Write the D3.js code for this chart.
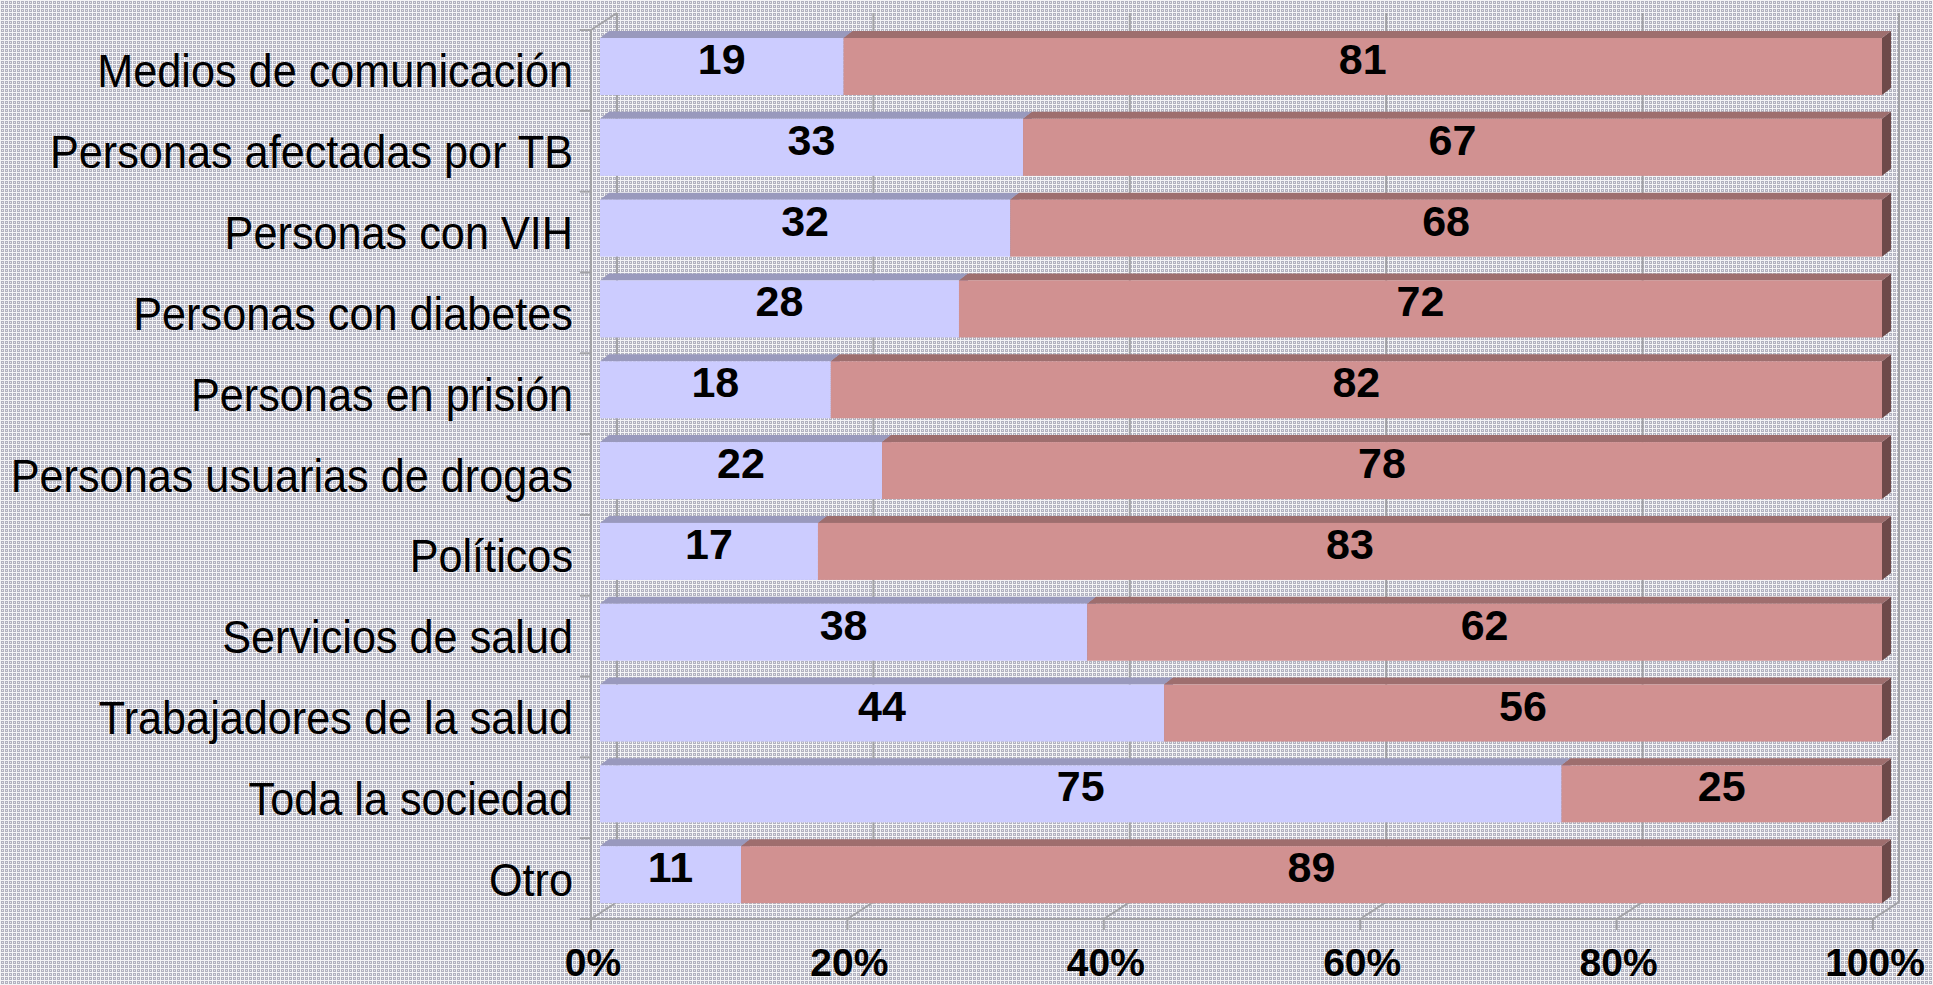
<!DOCTYPE html>
<html>
<head>
<meta charset="utf-8">
<script src="https://cdn.jsdelivr.net/npm/d3@7"></script>
<style>
html,body{margin:0;padding:0;background:#fff;}
svg{display:block;}
</style>
</head>
<body>
<svg id="chart" width="1933" height="985"></svg>
<script>
const categories = [
  "Medios de comunicación",
  "Personas afectadas por TB",
  "Personas con VIH",
  "Personas con diabetes",
  "Personas en prisión",
  "Personas usuarias de drogas",
  "Políticos",
  "Servicios de salud",
  "Trabajadores de la salud",
  "Toda la sociedad",
  "Otro"
];
const seriesA = [19, 33, 32, 28, 18, 22, 17, 38, 44, 75, 11];
const seriesB = [81, 67, 68, 72, 82, 78, 83, 62, 56, 25, 89];
const tickValues = [0, 20, 40, 60, 80, 100];
const tickLabels = ["0%", "20%", "40%", "60%", "80%", "100%"];

const svg = d3.select("#chart");
const W = 1933, H = 985;

// background pattern
const defs = svg.append("defs");
const pat = defs.append("pattern").attr("id", "bg").attr("width", 4).attr("height", 4)
  .attr("patternUnits", "userSpaceOnUse");
pat.append("rect").attr("width", 4).attr("height", 4).attr("fill", "#f4f4f6");
pat.append("rect").attr("x", 1).attr("y", 1).attr("width", 3).attr("height", 3).attr("fill", "#b2b2c0");
pat.append("rect").attr("x", 2).attr("y", 2).attr("width", 1).attr("height", 1).attr("fill", "#e6e6ea");
svg.append("rect").attr("width", W).attr("height", H).attr("fill", "url(#bg)");

// geometry
const x = d3.scaleLinear().domain([0, 100]).range([591, 1873]);
const y = d3.scaleBand().domain(categories).range([30, 919]);
const wallDX = 26, wallDY = -17;
const barDX = 9, barDY = -7;
const barOff = 8, barH = 57;
const gridColor = "#a2a2a6";

const g = svg.append("g");

// back wall gridlines
g.selectAll("line.grid").data(tickValues).join("line")
  .attr("class", "grid")
  .attr("x1", d => x(d) + wallDX).attr("x2", d => x(d) + wallDX)
  .attr("y1", 30 + wallDY).attr("y2", 919 + wallDY)
  .attr("stroke", gridColor).attr("stroke-width", 2);

// floor diagonals
g.selectAll("line.floor").data(tickValues).join("line")
  .attr("x1", d => x(d)).attr("y1", 919)
  .attr("x2", d => x(d) + wallDX).attr("y2", 919 + wallDY)
  .attr("stroke", gridColor).attr("stroke-width", 2);

// left wall top diagonal
g.append("line").attr("x1", x(0)).attr("y1", 30).attr("x2", x(0) + wallDX).attr("y2", 30 + wallDY)
  .attr("stroke", gridColor).attr("stroke-width", 2);

// left axis line
g.append("line").attr("x1", x(0)).attr("y1", 30).attr("x2", x(0)).attr("y2", 919)
  .attr("stroke", gridColor).attr("stroke-width", 2);
// left ticks at band boundaries
const bounds = categories.map(c => y(c)).concat([919]);
g.selectAll("line.ytick").data(bounds).join("line")
  .attr("x1", x(0) - 11).attr("x2", x(0))
  .attr("y1", d => d).attr("y2", d => d)
  .attr("stroke", gridColor).attr("stroke-width", 2);

// bottom axis line and ticks
g.append("line").attr("x1", x(0)).attr("y1", 919).attr("x2", x(100)).attr("y2", 919)
  .attr("stroke", gridColor).attr("stroke-width", 2);
g.selectAll("line.xtick").data(tickValues).join("line")
  .attr("x1", d => x(d)).attr("x2", d => x(d))
  .attr("y1", 919).attr("y2", 930)
  .attr("stroke", gridColor).attr("stroke-width", 2);

// bars
const rows = categories.map((c, i) => ({c, a: seriesA[i], b: seriesB[i]}));
const segs = [];
rows.forEach(r => {
  segs.push({c: r.c, v0: 0, v1: r.a, v: r.a, front: "#ccccff", top: "#9999bd", side: "#7a7aa0"});
  segs.push({c: r.c, v0: r.a, v1: r.a + r.b, v: r.b, front: "#d19191", top: "#9e6e6e", side: "#6e4a4a"});
});

const barG = svg.append("g");
segs.forEach(s => {
  const x0 = x(s.v0) + barDX, x1 = x(s.v1) + barDX;
  const y0 = y(s.c) + barOff, y1 = y0 + barH;
  barG.append("path")
    .attr("d", `M${x1},${y0}L${x1 + barDX},${y0 + barDY}L${x1 + barDX},${y1 + barDY}L${x1},${y1}Z`)
    .attr("fill", s.side);
  barG.append("path")
    .attr("d", `M${x0},${y0}L${x0 + barDX},${y0 + barDY}L${x1 + barDX},${y0 + barDY}L${x1},${y0}Z`)
    .attr("fill", s.top);
  barG.append("rect")
    .attr("x", x0).attr("y", y0).attr("width", x1 - x0).attr("height", barH)
    .attr("fill", s.front);
});

// value labels
svg.append("g").selectAll("text").data(segs).join("text")
  .attr("x", s => (x(s.v0) + x(s.v1)) / 2 + barDX)
  .attr("y", s => y(s.c) + barOff + 36)
  .attr("text-anchor", "middle")
  .attr("font-family", "Liberation Sans, Arial, sans-serif")
  .attr("font-weight", "bold")
  .attr("font-size", 43)
  .attr("fill", "#000")
  .text(s => s.v);

// category labels
svg.append("g").selectAll("text").data(categories).join("text")
  .attr("transform", c => `translate(573,${y(c) + y.bandwidth() / 2 + 17}) scale(0.94,1)`)
  .attr("text-anchor", "end")
  .attr("font-family", "Liberation Sans, Arial, sans-serif")
  .attr("font-size", 46)
  .attr("fill", "#000")
  .text(c => c);

// tick labels
svg.append("g").selectAll("text").data(tickValues).join("text")
  .attr("x", d => x(d) + 2)
  .attr("y", 976)
  .attr("text-anchor", "middle")
  .attr("font-family", "Liberation Sans, Arial, sans-serif")
  .attr("font-weight", "bold")
  .attr("font-size", 39)
  .attr("fill", "#000")
  .text((d, i) => tickLabels[i]);
</script>
</body>
</html>
